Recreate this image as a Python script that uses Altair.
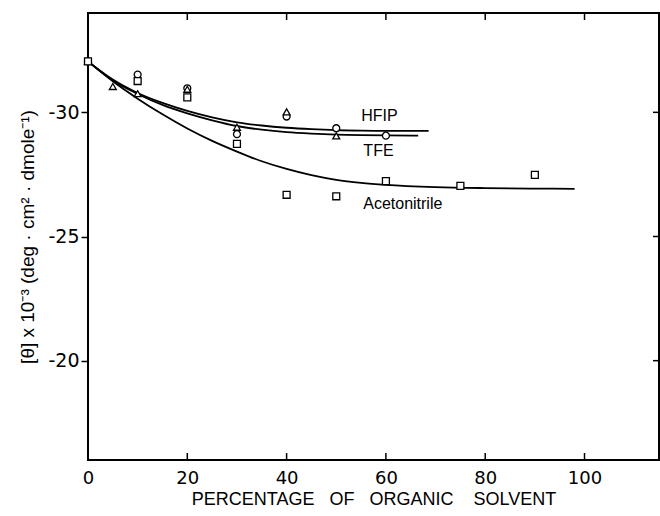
import altair as alt
import pandas as pd

# ---- data ----
series_names = ["HFIP", "TFE", "Acetonitrile"]

hfip_x = [0, 10, 20, 30, 40, 50, 60]
hfip_y = [-32.05, -31.52, -30.97, -29.12, -29.83, -29.36, -29.06]

tfe_x = [0, 5, 10, 20, 30, 40, 50]
tfe_y = [-32.05, -31.04, -30.75, -30.93, -29.40, -30.02, -29.05]

acn_x = [0, 10, 20, 30, 40, 50, 60, 75, 90]
acn_y = [-32.05, -31.26, -30.60, -28.73, -26.68, -26.62, -27.23, -27.04, -27.48]

hfip_curve_x = [0, 5, 10, 15, 20, 25, 30, 35, 40, 45, 50, 55, 60, 68.6]
hfip_curve_y = [-32.05, -31.32, -30.78, -30.38, -30.06, -29.80, -29.60, -29.47,
                -29.38, -29.32, -29.28, -29.26, -29.25, -29.25]

tfe_curve_x = [0, 5, 10, 15, 20, 25, 30, 35, 40, 45, 50, 55, 60, 66.5]
tfe_curve_y = [-32.05, -31.28, -30.74, -30.30, -29.96, -29.68, -29.45, -29.30,
               -29.20, -29.14, -29.10, -29.08, -29.07, -29.06]

acn_curve_x = [0, 5, 10, 15, 20, 25, 30, 35, 40, 45, 50, 55, 60, 70, 80, 90, 98]
acn_curve_y = [-32.05, -31.25, -30.55, -29.92, -29.35, -28.85, -28.42, -28.03,
               -27.72, -27.47, -27.28, -27.16, -27.08, -26.99, -26.95, -26.93, -26.92]

label_text = ["HFIP", "TFE", "Acetonitrile"]
label_x = [58.7, 58.5, 63.4]
label_y = [-29.84, -28.45, -26.31]

x_ticks = [0, 20, 40, 60, 80, 100]
y_ticks = [-30, -25, -20]
x_inner_ticks = [20, 40, 60, 80, 100]

X_DOMAIN = [0, 115]
Y_DOMAIN = [-34, -16]

# ---- tables ----
pts = pd.DataFrame(
    [{"x": a, "y": b, "s": "HFIP"} for a, b in zip(hfip_x, hfip_y)]
    + [{"x": a, "y": b, "s": "TFE"} for a, b in zip(tfe_x, tfe_y)]
    + [{"x": a, "y": b, "s": "Acetonitrile"} for a, b in zip(acn_x, acn_y)]
)
curves = pd.DataFrame(
    [{"x": a, "y": b, "s": "HFIP"} for a, b in zip(hfip_curve_x, hfip_curve_y)]
    + [{"x": a, "y": b, "s": "TFE"} for a, b in zip(tfe_curve_x, tfe_curve_y)]
    + [{"x": a, "y": b, "s": "Acetonitrile"} for a, b in zip(acn_curve_x, acn_curve_y)]
)
labels = pd.DataFrame({"t": label_text, "x": label_x, "y": label_y})
top_ticks = pd.DataFrame({"x": x_inner_ticks, "y": [Y_DOMAIN[0]] * len(x_inner_ticks)})
bot_ticks = pd.DataFrame({"x": x_inner_ticks, "y": [Y_DOMAIN[1]] * len(x_inner_ticks)})
right_ticks = pd.DataFrame({"y": y_ticks, "x": [X_DOMAIN[1]] * len(y_ticks)})

xscale = alt.Scale(domain=X_DOMAIN, nice=False, zero=False)
yscale = alt.Scale(domain=Y_DOMAIN, reverse=True, nice=False, zero=False)

x_axis = alt.Axis(
    values=x_ticks, ticks=False, domain=False, grid=False,
    labelFont="DejaVu Sans", labelFontSize=18, labelPadding=9, labelColor="black",
    labelFlush=False, labelOverlap=False,
    title="PERCENTAGE\u00a0\u00a0\u00a0OF\u00a0\u00a0\u00a0ORGANIC\u00a0\u00a0\u00a0\u00a0SOLVENT",
    titleFontSize=18, titleFontWeight="normal", titleColor="black", titlePadding=3,
)
y_axis = alt.Axis(
    values=y_ticks, tickSize=7, tickColor="black", tickWidth=1.5,
    domain=False, grid=False,
    labelFont="DejaVu Sans", labelFontSize=19, labelPadding=2, labelColor="black",
    labelFlush=False, labelOverlap=False,
    labelExpr="'-' + abs(datum.value)",
    title="[θ] x 10⁻³ (deg · cm² · dmole⁻¹)",
    titleFontSize=19, titleFontWeight="normal", titleColor="black", titlePadding=10,
)

base_x = alt.X("x:Q", scale=xscale, axis=x_axis)
base_y = alt.Y("y:Q", scale=yscale, axis=y_axis)

lines = alt.Chart(curves).mark_line(
    color="black", strokeWidth=1.8, interpolate="monotone", clip=True
).encode(x=base_x, y=base_y, detail="s:N", order="x:Q")

points = alt.Chart(pts).mark_point(
    filled=False, fill="white", fillOpacity=1, stroke="black", strokeWidth=1.3,
    size=48, opacity=1
).encode(
    x=alt.X("x:Q", scale=xscale),
    y=alt.Y("y:Q", scale=yscale),
    shape=alt.Shape("s:N", scale=alt.Scale(domain=series_names,
                                            range=["circle", "triangle-up", "square"]),
                    legend=None),
)

texts = alt.Chart(labels).mark_text(
    font="Liberation Sans", fontSize=16, color="black", align="center", baseline="middle"
).encode(x=alt.X("x:Q", scale=xscale), y=alt.Y("y:Q", scale=yscale), text="t:N")

tt = alt.Chart(top_ticks).mark_rule(color="black", strokeWidth=1.5, y2Offset=7).encode(
    x=alt.X("x:Q", scale=xscale), y=alt.Y("y:Q", scale=yscale), y2="y:Q")
bt = alt.Chart(bot_ticks).mark_rule(color="black", strokeWidth=1.5, y2Offset=-7).encode(
    x=alt.X("x:Q", scale=xscale), y=alt.Y("y:Q", scale=yscale), y2="y:Q")
rt = alt.Chart(right_ticks).mark_rule(color="black", strokeWidth=1.5, x2Offset=-6).encode(
    x=alt.X("x:Q", scale=xscale), x2="x:Q", y=alt.Y("y:Q", scale=yscale))

chart = alt.layer(lines, tt, bt, rt, points, texts).properties(
    width=571, height=447,
    autosize=alt.AutoSizeParams(type="none"),
    padding={"left": 88, "top": 13, "right": 1, "bottom": 56},
).configure(
    font="Liberation Sans",
    background="white",
).configure_view(
    stroke="black", strokeWidth=2,
)

chart.save("out.html", embed_options={"renderer": "svg", "actions": False})
